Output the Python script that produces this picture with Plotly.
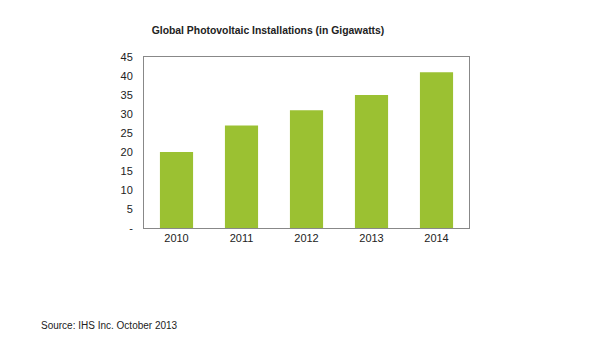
import plotly.graph_objects as go

years = ["2010", "2011", "2012", "2013", "2014"]
gigawatts = [20, 27, 31, 35, 41]
y_tickvals = [0, 5, 10, 15, 20, 25, 30, 35, 40, 45]
y_ticktext = ["-", "5", "10", "15", "20", "25", "30", "35", "40", "45"]

fig = go.Figure(go.Bar(x=years, y=gigawatts, marker=dict(color="#9BC132", line=dict(width=0))))

fig.update_layout(
    width=600, height=355,
    margin=dict(l=144, r=131, t=57, b=127),
    paper_bgcolor="white", plot_bgcolor="white",
    bargap=0.49,
    showlegend=False,
    font=dict(family="Liberation Sans, Arial, sans-serif", size=11, color="#222222"),
    title=dict(text="<b>Global Photovoltaic Installations (in Gigawatts)</b>",
               x=268/600, xanchor="center", y=1-30/355, yanchor="middle",
               font=dict(size=10.4, color="#222222")),
)
fig.update_xaxes(showline=True, linecolor="#888888", linewidth=1, mirror=True,
                 ticks="", showgrid=False, tickfont=dict(size=11))
fig.update_yaxes(range=[0, 45], tickvals=y_tickvals, ticktext=y_ticktext,
                 showline=True, linecolor="#888888", linewidth=1, mirror=True,
                 ticks="", showgrid=False, zeroline=False, ticklabelstandoff=8,
                 tickfont=dict(size=11))
fig.add_annotation(text="Source: IHS Inc. October 2013", xref="paper", yref="paper",
                   x=-(144-39)/325, xanchor="left", y=-(325-228)/171, yanchor="middle",
                   showarrow=False, font=dict(size=10, color="#222222"))
fig.write_html("out.html")
